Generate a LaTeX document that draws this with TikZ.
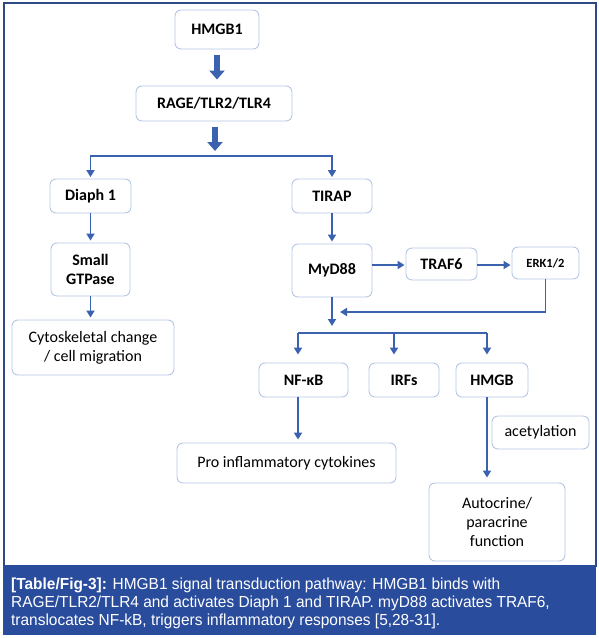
\documentclass[tikz,border=0pt]{standalone}
\usepackage{fontspec}
\setmainfont{Carlito}
\newfontfamily\capfont[FakeStretch=0.965]{Liberation Sans}
\usetikzlibrary{arrows.meta}
\definecolor{arr}{HTML}{3A62AE}
\definecolor{boxline}{HTML}{B4C7E7}
\definecolor{framec}{HTML}{2E4A86}
\definecolor{band}{HTML}{2A4C9C}
\tikzset{
  box/.style={draw=boxline, line width=0.9pt, rounded corners=6pt, fill=white, align=center, inner sep=0pt, font=\fontsize{16}{19}\selectfont\bfseries},
  plain/.style={box, font=\fontsize{16}{19}\selectfont},
  link/.style={draw=arr, line width=1.8pt, -{Triangle[width=8pt,length=7pt]}},
  line/.style={draw=arr, line width=1.8pt},
  blockarrow/.style={draw=arr, line width=6.5pt, -{Triangle[width=15pt,length=9pt]}, shorten <=6pt, shorten >=6pt},
  capline/.style={anchor=base west, inner sep=0pt, text=white, font=\capfont\fontsize{16}{18}\selectfont}
}
\begin{document}
\begin{tikzpicture}[x=1pt, y=-1pt]
\useasboundingbox (0,0) rectangle (599,638);
% frame
\draw[framec, line width=1.2pt] (4,3) rectangle (596,566);
\fill[band] (3,565) rectangle (596,635);
% nodes
\node[box, minimum width=84pt, minimum height=39pt] (hmgb1) at (217,29.5) {HMGB1};
\node[box, minimum width=156pt, minimum height=35pt] (rage) at (214,103.5) {RAGE/TLR2/TLR4};
\node[box, minimum width=81pt, minimum height=34pt] (diaph) at (90.5,196) {Diaph 1};
\node[box, minimum width=80pt, minimum height=34pt] (tirap) at (332,196) {TIRAP};
\node[box, minimum width=79pt, minimum height=53pt] (gtp) at (90.5,269.5) {Small\\GTPase};
\node[plain, minimum width=162pt, minimum height=55pt] (cyto) at (93,347.5) {Cytoskeletal change\\/ cell migration};
\node[box, minimum width=80pt, minimum height=53pt] (myd) at (332,270.5) {MyD88};
\node[box, minimum width=71pt, minimum height=32pt] (traf) at (441.5,264) {TRAF6};
\node[box, minimum width=67pt, minimum height=32pt, font=\fontsize{12.5}{14}\selectfont\bfseries] (erk) at (545.5,263) {ERK1/2};
\node[box, minimum width=89pt, minimum height=34pt] (nfkb) at (303.5,380) {NF-κB};
\node[box, minimum width=70pt, minimum height=34pt] (irfs) at (404,380) {IRFs};
\node[box, minimum width=72pt, minimum height=34pt] (hmgb) at (492,380) {HMGB};
\node[plain, minimum width=219pt, minimum height=40pt] (pro) at (286.5,463) {Pro inflammatory cytokines};
\node[plain, minimum width=97pt, minimum height=33pt] (acet) at (540.5,432.5) {acetylation};
\node[plain, minimum width=136pt, minimum height=78pt] (auto) at (497,522) {Autocrine/\\paracrine\\function};
% coordinates
\coordinate (split) at (215,156);
\coordinate (ma) at (332,326);
\coordinate (mj) at (340,312);
\coordinate (bl) at (298,333);
\coordinate (bm) at (394,333);
\coordinate (br) at (487,333);
\coordinate (tr) at (441.5,265);
% block arrows
\draw[blockarrow] (hmgb1.south) -- (rage.north -| hmgb1.south);
\draw[blockarrow, shorten >=5pt] (rage.south -| split) -- (split);
% branch to diaph / tirap
\draw[link, shorten >=1.5pt] (split) -| (diaph.north);
\draw[link, shorten >=1.5pt] (split) -| (tirap.north);
\draw[link, shorten >=2pt] (diaph.south) -- (gtp.north -| diaph.south);
\draw[link, shorten >=2pt] (gtp.south) -- (cyto.north -| gtp.south);
\draw[link, shorten >=2pt] (tirap.south) -- (myd.north);
\draw[link, shorten >=1pt] (tr -| myd.east) -- (tr -| traf.west);
\draw[link, shorten >=1pt] (tr -| traf.east) -- (tr -| erk.west);
\draw[link] (erk.south) |- (mj);
\draw[link] (myd.south) -- (ma);
\draw[line] (bl) -- (br);
\draw[link, shorten >=8pt] (bl) -- (nfkb.north -| bl);
\draw[link, shorten >=8pt] (bm) -- (irfs.north -| bm);
\draw[link, shorten >=8pt] (br) -- (hmgb.north -| br);
\draw[link, shorten >=3pt] (nfkb.south -| bl) -- (pro.north -| bl);
\draw[link, shorten >=5pt] (hmgb.south -| br) -- (auto.north -| br);
% caption
\node[capline] (c1) at (11,589) {\textbf{[Table/Fig-3]:} HMGB1 signal transduction pathway: HMGB1 binds with};
\node[capline] (c2) at (11,607) {RAGE/TLR2/TLR4 and activates Diaph 1 and TIRAP. myD88 activates TRAF6,};
\node[capline] (c3) at (11,625) {translocates NF-kB, triggers inflammatory responses [5,28-31].};
\end{tikzpicture}
\end{document}
